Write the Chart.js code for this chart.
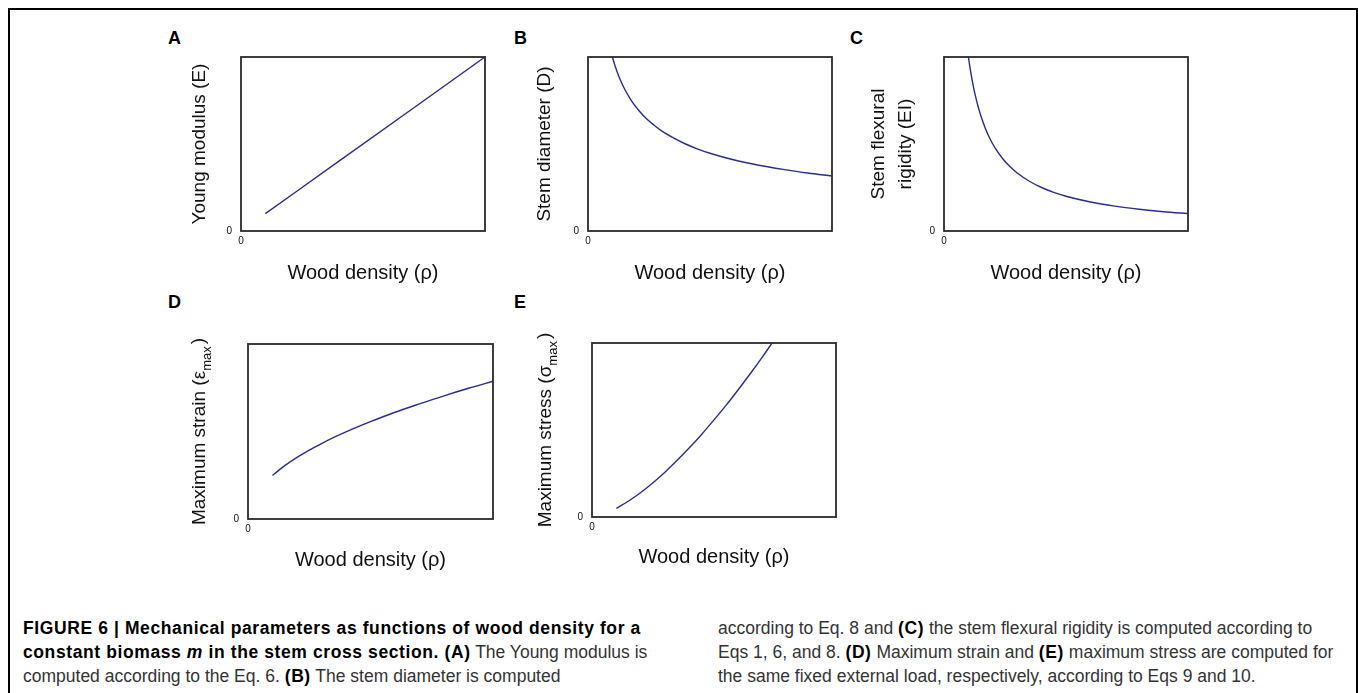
<!DOCTYPE html>
<html>
<head>
<meta charset="utf-8">
<script src="https://cdn.jsdelivr.net/npm/chart.js@4.4.0/dist/chart.umd.min.js"></script>
<style>
  body{margin:0;background:#fff;width:1358px;height:693px;overflow:hidden;position:relative;font-family:"Liberation Sans",Arial,sans-serif;}
  canvas{position:absolute;}
  .frame{position:absolute;left:8px;top:8px;width:1346px;height:800px;border:2px solid #000;}
  .lbl{position:absolute;font-weight:bold;font-size:18px;line-height:18px;color:#000;}
  .cap{position:absolute;font-size:17.5px;line-height:24px;color:#333;white-space:nowrap;}
  .cap b{color:#000;letter-spacing:0.6px;}
</style>
</head>
<body>
<div class="frame"></div>
<div class="lbl" style="left:168px;top:29px">A</div>
<div class="lbl" style="left:514px;top:29px">B</div>
<div class="lbl" style="left:850px;top:29px">C</div>
<div class="lbl" style="left:168px;top:293px">D</div>
<div class="lbl" style="left:514px;top:293px">E</div>
<canvas id="chartA"></canvas>
<canvas id="chartB"></canvas>
<canvas id="chartC"></canvas>
<canvas id="chartD"></canvas>
<canvas id="chartE"></canvas>
<div class="cap" style="left:23px;top:616px">
<b>FIGURE 6 | Mechanical parameters as functions of wood density for a</b><br>
<b>constant biomass <i>m</i> in the stem cross section. (A)</b> The Young modulus is<br>
computed according to the Eq. 6. <b>(B)</b> The stem diameter is computed
</div>
<div class="cap" style="left:718px;top:616px">
according to Eq. 8 and <b>(C)</b> the stem flexural rigidity is computed according to<br>
Eqs 1, 6, and 8. <b>(D)</b> Maximum strain and <b>(E)</b> maximum stress are computed for<br>
the same fixed external load, respectively, according to Eqs 9 and 10.
</div>
<script>
// values (axes have no units, 0..1 of the plot box)
const rhoA = [0.1, 0.4, 0.7, 1.0];
const youngE = [0.1, 0.4, 0.7, 1.0];

const rhoB = [0.1, 0.11, 0.12, 0.13, 0.14, 0.15, 0.17, 0.19, 0.21, 0.24, 0.27, 0.3, 0.35, 0.4, 0.45, 0.5, 0.6, 0.7, 0.8, 0.9, 1.0];
const diameterD = [1.0, 0.953, 0.913, 0.877, 0.845, 0.816, 0.767, 0.725, 0.69, 0.645, 0.609, 0.577, 0.535, 0.5, 0.471, 0.447, 0.408, 0.378, 0.354, 0.333, 0.316];

const rhoC = [0.1, 0.11, 0.12, 0.13, 0.14, 0.15, 0.17, 0.19, 0.21, 0.24, 0.27, 0.3, 0.35, 0.4, 0.45, 0.5, 0.6, 0.7, 0.8, 0.9, 1.0];
const rigidityEI = [1.0, 0.91, 0.833, 0.769, 0.714, 0.667, 0.588, 0.526, 0.476, 0.417, 0.37, 0.333, 0.286, 0.25, 0.222, 0.2, 0.167, 0.143, 0.125, 0.111, 0.1];

const rhoD = [0.1, 0.125, 0.15, 0.175, 0.2, 0.25, 0.3, 0.35, 0.4, 0.5, 0.6, 0.7, 0.8, 0.9, 1.0];
const strainMax = [0.249, 0.278, 0.305, 0.329, 0.352, 0.394, 0.431, 0.466, 0.498, 0.556, 0.61, 0.658, 0.704, 0.747, 0.787];

const rhoE = [0.1, 0.15, 0.2, 0.25, 0.3, 0.35, 0.4, 0.45, 0.5, 0.55, 0.6, 0.65, 0.7, 0.738];
const stressMax = [0.05, 0.092, 0.141, 0.197, 0.259, 0.327, 0.399, 0.476, 0.558, 0.643, 0.733, 0.826, 0.923, 1.0];

const xLabel = 'Wood density (ρ)';
const tickLabels = ['0'];

const family = '"Liberation Sans", Arial, sans-serif';

const boxPlugin = {
  id: 'box',
  afterDraw(c) {
    const {ctx, chartArea: a} = c;
    ctx.save();
    ctx.strokeStyle = '#2a2a2a';
    ctx.lineWidth = 1.8;
    ctx.strokeRect(a.left, a.top, a.right - a.left, a.bottom - a.top);
    ctx.restore();
  }
};

// y title with a subscript, Chart.js titles cannot do that
function subTitle(main, sub, cx) {
  return {
    id: 'subTitle',
    afterDraw(c) {
      const {ctx, chartArea: a} = c;
      const big = '19px ' + family, small = '13px ' + family;
      ctx.save();
      ctx.fillStyle = '#111';
      ctx.font = big;
      const w1 = ctx.measureText(main).width, w3 = ctx.measureText(')').width;
      ctx.font = small;
      const w2 = ctx.measureText(sub).width;
      const total = w1 + w2 + w3 + 2;
      ctx.translate(a.left + cx, (a.top + a.bottom) / 2);
      ctx.rotate(-Math.PI / 2);
      ctx.textBaseline = 'middle';
      ctx.textAlign = 'left';
      let x = -total / 2;
      ctx.font = big;
      ctx.fillText(main, x, 0);
      x += w1;
      ctx.font = small;
      ctx.fillText(sub, x, 7);
      x += w2 + 2;
      ctx.font = big;
      ctx.fillText(')', x, -1);
      ctx.restore();
    }
  };
}

function panel(id, box, xs, ys, o) {
  const yw = o.yw || 61, xh = 59, pt = 10, pr = 12;
  const cv = document.getElementById(id);
  cv.width = box.r - box.l + yw + pr;
  cv.height = box.b - box.t + pt + xh;
  cv.style.left = (box.l - yw) + 'px';
  cv.style.top = (box.t - pt) + 'px';

  const plugins = [boxPlugin];
  if (o.sub) plugins.push(subTitle(o.sub[0], o.sub[1], o.sub[2]));

  new Chart(cv, {
    type: 'line',
    data: {
      datasets: [{
        data: xs.map((x, i) => ({x: x, y: ys[i]})),
        borderColor: '#2b2b90',
        borderWidth: 1.4,
        pointRadius: 0,
        fill: false,
        cubicInterpolationMode: 'monotone'
      }]
    },
    options: {
      responsive: false,
      animation: false,
      devicePixelRatio: 1,
      layout: {padding: {top: pt, right: pr, left: 0, bottom: 0}},
      plugins: {legend: {display: false}, tooltip: {enabled: false}},
      scales: {
        x: {
          type: 'linear', min: 0, max: 1,
          grid: {display: false, drawTicks: false},
          border: {display: false},
          afterFit: s => { s.height = xh; },
          afterBuildTicks: s => { s.ticks = [{value: 0}]; },
          ticks: {padding: 4, font: {size: 10, family: family}, color: '#111', maxRotation: 0,
                  callback: () => tickLabels[0]},
          title: {display: true, text: xLabel, color: '#111',
                  font: {size: 20, family: family}, padding: {top: 0, bottom: o.xpb}}
        },
        y: {
          type: 'linear', min: 0, max: 1,
          grid: {display: false, drawTicks: false},
          border: {display: false},
          afterFit: s => { s.width = yw; },
          afterBuildTicks: s => { s.ticks = [{value: 0}]; },
          ticks: {padding: 9, font: {size: 10, family: family}, color: '#111',
                  callback: () => tickLabels[0]},
          title: o.ytitle ? {display: true, text: o.ytitle, color: '#111',
                  font: {size: 19, family: family, lineHeight: o.ylh || 1.2},
                  padding: {top: o.ypt, bottom: 0}} : {display: false}
        }
      }
    },
    plugins: plugins
  });
}

panel('chartA', {l: 241, r: 485, t: 52, b: 231}, rhoA, youngE,
      {ytitle: 'Young modulus (E)', ypt: 8.6, xpb: 5});
panel('chartB', {l: 588, r: 832, t: 52, b: 231}, rhoB, diameterD,
      {ytitle: 'Stem diameter (D)', ypt: 6.6, xpb: 5});
panel('chartC', {l: 944, r: 1188, t: 52, b: 231}, rhoC, rigidityEI,
      {ytitle: ['Stem flexural', 'rigidity (EI)'], ylh: 1.46, yw: 80, ypt: 0.6, xpb: 5});
panel('chartD', {l: 248, r: 493, t: 339, b: 519}, rhoD, strainMax,
      {sub: ['Maximum strain (ε', 'max', -48], xpb: 6});
panel('chartE', {l: 592, r: 836, t: 338, b: 517}, rhoE, stressMax,
      {sub: ['Maximum stress (σ', 'max', -46], xpb: 7});
</script>
</body>
</html>
